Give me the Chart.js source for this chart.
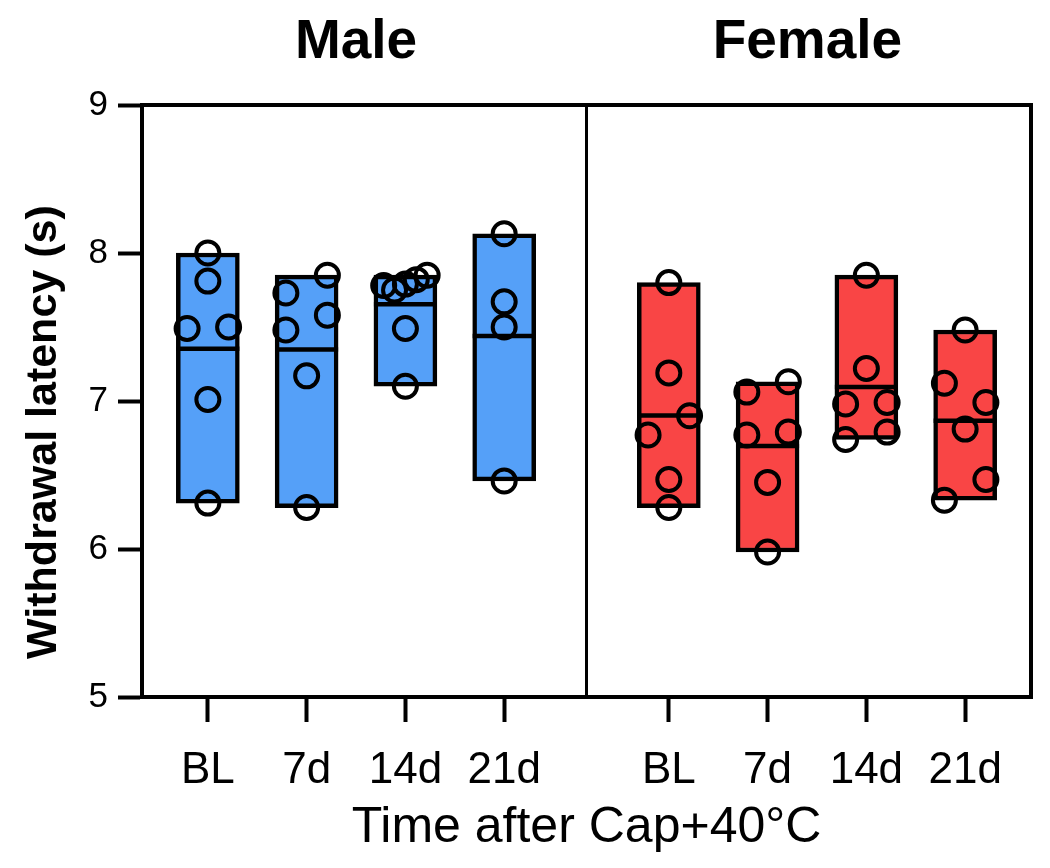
<!DOCTYPE html>
<html>
<head>
<meta charset="utf-8">
<script src="https://cdn.jsdelivr.net/npm/chart.js@4/dist/chart.umd.min.js"></script>
<style>
html, body { margin: 0; padding: 0; background: #fff; overflow: hidden; }
canvas { display: block; }
</style>
</head>
<body>
<canvas id="myChart" width="1050" height="868"></canvas>
<script>
var timepoints = ['BL', '7d', '14d', '21d'];
var panels = ['Male', 'Female'];
var yTicks = [5, 6, 7, 8, 9];

// withdrawal latency (s) per animal; where circles overlap they are listed left to right
var maleBL  = [8.00, 7.81, 7.49, 7.50, 7.01, 6.31];
var male7d  = [7.73, 7.85, 7.48, 7.58, 7.17, 6.28];
var male14d = [7.78, 7.75, 7.79, 7.82, 7.85, 7.49, 7.10];
var male21d = [8.13, 7.67, 7.50, 6.46];

var femaleBL  = [7.80, 7.19, 6.77, 6.90, 6.47, 6.28];
var female7d  = [7.06, 7.13, 6.77, 6.79, 6.45, 5.98];
var female14d = [7.85, 7.22, 6.98, 6.99, 6.74, 6.79];
var female21d = [7.48, 7.12, 6.99, 6.81, 6.33, 6.47];

var groups = [
  [maleBL, male7d, male14d, male21d],
  [femaleBL, female7d, female14d, female21d]
];
var colors = ['#55a0f8', '#f94545'];

Chart.defaults.font.family = '"Liberation Sans", Arial, sans-serif';
Chart.defaults.color = '#000';

var GAP = 2 / 3;
function groupX(p, i) { return p === 0 ? i + 1 : i + 5 + GAP; }

function mean(a) { return a.reduce(function (s, v) { return s + v; }, 0) / a.length; }

// spread overlapping circles sideways, prism style
function swarm(vals, cx) {
  var idx = vals.map(function (v, i) { return i; })
    .sort(function (a, b) { return vals[b] - vals[a]; });
  var rows = [], cur = null;
  idx.forEach(function (i) {
    if (cur && vals[cur[0]] - vals[i] < 0.145) cur.push(i);
    else { cur = [i]; rows.push(cur); }
  });
  var pts = [];
  rows.forEach(function (r) {
    r.sort(function (a, b) { return a - b; });
    var n = r.length, step = n > 1 ? Math.min(0.42, 0.44 / (n - 1)) : 0;
    r.forEach(function (i, k) {
      pts.push({ x: cx + (k - (n - 1) / 2) * step, y: vals[i] });
    });
  });
  return pts;
}

var barData = [], barColors = [], meanData = [], dotData = [], tickPos = [], tickText = [];
groups.forEach(function (g, p) {
  g.forEach(function (vals, i) {
    var x = groupX(p, i);
    barData.push({ x: x, y: [Math.min.apply(null, vals), Math.max.apply(null, vals)] });
    barColors.push(colors[p]);
    meanData.push({ x: x, y: mean(vals) });
    dotData = dotData.concat(swarm(vals, x));
    tickPos.push(x);
    tickText.push(timepoints[i]);
  });
});

var framePlugin = {
  id: 'frame',
  afterDatasetsDraw: function (chart) {
    var a = chart.chartArea, ctx = chart.ctx, xs = chart.scales.x;
    ctx.save();
    ctx.strokeStyle = '#000';
    ctx.lineWidth = 4;
    ctx.strokeRect(a.left, a.top, a.right - a.left, a.bottom - a.top);
    var mid = xs.getPixelForValue((groupX(0, 3) + groupX(1, 0)) / 2);
    ctx.lineWidth = 3;
    ctx.beginPath();
    ctx.moveTo(mid, a.top);
    ctx.lineTo(mid, a.bottom);
    ctx.stroke();
    ctx.restore();
  },
  afterDraw: function (chart) {
    var ctx = chart.ctx, xs = chart.scales.x, ys = chart.scales.y;
    var centers = [2.5, 7.07];
    ctx.save();
    ctx.font = 'bold 55px "Liberation Sans", Arial, sans-serif';
    ctx.fillStyle = '#000';
    ctx.textAlign = 'center';
    ctx.textBaseline = 'alphabetic';
    panels.forEach(function (t, p) {
      ctx.fillText(t, xs.getPixelForValue(centers[p]), 57.5);
    });
    // y axis title, sits a little below the middle of the axis
    ctx.font = 'bold 43px "Liberation Sans", Arial, sans-serif';
    ctx.textBaseline = 'middle';
    ctx.translate(44, ys.getPixelForValue(6.79));
    ctx.rotate(-Math.PI / 2);
    ctx.fillText('Withdrawal latency (s)', 0, 0);
    ctx.restore();
  }
};

var ctx = document.getElementById('myChart').getContext('2d');
var chart = new Chart(ctx, {
  type: 'scatter',
  data: {
    datasets: [
      {
        type: 'scatter',
        data: dotData,
        pointStyle: 'circle',
        pointRadius: 11.5,
        pointBorderWidth: 4,
        pointBackgroundColor: 'rgba(0,0,0,0)',
        pointBorderColor: '#000',
        order: 1
      },
      {
        type: 'scatter',
        data: meanData,
        pointStyle: 'line',
        pointRadius: 31.5,
        pointBorderWidth: 4.5,
        pointBorderColor: '#000',
        order: 2
      },
      {
        type: 'bar',
        data: barData,
        backgroundColor: barColors,
        borderColor: '#000',
        borderWidth: 4.5,
        borderSkipped: false,
        barThickness: 63,
        grouped: false,
        order: 3
      }
    ]
  },
  options: {
    responsive: false,
    animation: false,
    layout: { autoPadding: false, padding: { top: 105, right: 19, bottom: 0, left: 0 } },
    plugins: { legend: { display: false }, tooltip: { enabled: false } },
    scales: {
      x: {
        type: 'linear',
        min: 1 / 3,
        max: 9 + 1 / 3,
        offset: false,
        afterBuildTicks: function (s) { s.ticks = tickPos.map(function (v) { return { value: v }; }); },
        afterFit: function (s) { s.height = 171; s.paddingLeft = 0; s.paddingRight = 0; },
        ticks: {
          autoSkip: false,
          maxRotation: 0,
          padding: 22,
          font: { size: 44 },
          callback: function (v, i) { return tickText[i]; }
        },
        grid: { offset: false, drawOnChartArea: false, tickLength: 25, tickWidth: 4, tickColor: '#000' },
        border: { display: true, color: '#000', width: 4 },
        title: {
          display: true,
          text: 'Time after Cap+40°C',
          font: { size: 50 },
          padding: { top: 0, bottom: 10 }
        }
      },
      y: {
        min: 5,
        max: 9,
        afterBuildTicks: function (s) { s.ticks = yTicks.map(function (v) { return { value: v }; }); },
        afterFit: function (s) { s.width = 142; s.paddingTop = 0; s.paddingBottom = 0; },
        ticks: { padding: 10, font: { size: 35 } },
        grid: { drawOnChartArea: false, tickLength: 24, tickWidth: 4, tickColor: '#000' },
        border: { display: true, color: '#000', width: 4 }
      }
    }
  },
  plugins: [framePlugin]
});
</script>
</body>
</html>
